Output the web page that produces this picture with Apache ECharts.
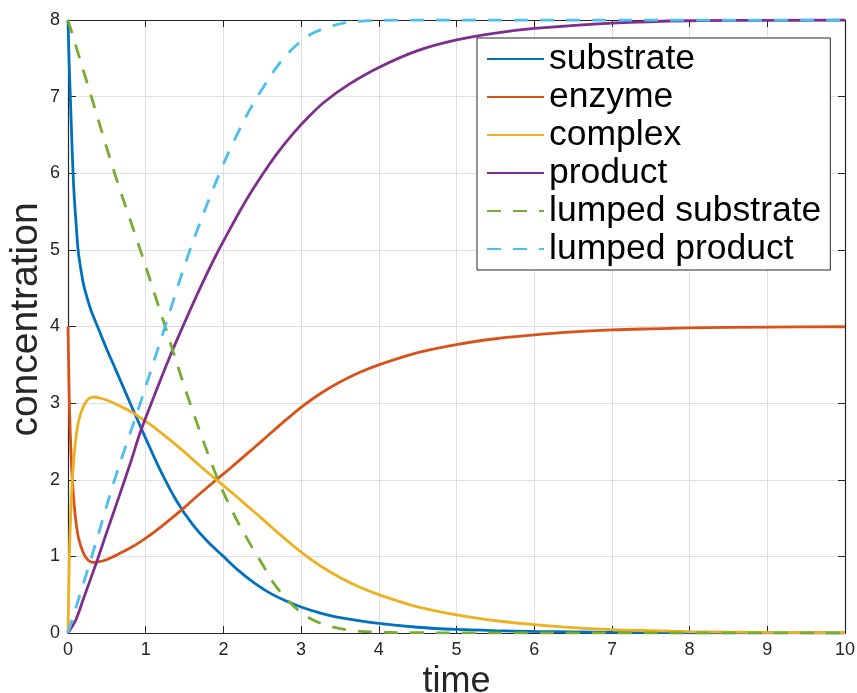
<!DOCTYPE html>
<html>
<head>
<meta charset="utf-8">
<title>enzyme kinetics</title>
<script src="https://cdn.jsdelivr.net/npm/echarts@6.0.0/dist/echarts.min.js"></script>
<style>
  html, body { margin: 0; padding: 0; background: #fff; }
  #main { width: 857px; height: 693px; }
</style>
</head>
<body>
<div id="main"></div>
<script>
// values
var seriesNames = ['substrate', 'enzyme', 'complex', 'product', 'lumped substrate', 'lumped product'];
var colors = ['#0072BD', '#D95319', '#EDB120', '#7E2F8E', '#77AC30', '#4DBEEE'];

var substrateT = [0, 0.01, 0.02, 0.03, 0.045, 0.065, 0.08, 0.1, 0.13, 0.16, 0.2, 0.25, 0.3, 0.38, 0.5, 0.6, 0.8, 1.0, 1.2, 1.4, 1.6, 1.8, 2.0, 2.2, 2.4, 2.6, 2.8, 3.0, 3.25, 3.5, 4.0, 4.5, 5.0, 5.5, 6.0, 7.0, 8.0, 9.0, 10];
var substrate = [8, 7.6, 7.28, 7.0, 6.55, 6.0, 5.7, 5.4, 5.0, 4.78, 4.55, 4.36, 4.2, 4.0, 3.7, 3.47, 3.0, 2.54, 2.1, 1.72, 1.42, 1.19, 1.0, 0.81, 0.65, 0.52, 0.42, 0.34, 0.26, 0.2, 0.125, 0.075, 0.046, 0.03, 0.02, 0.008, 0.003, 0.001, 0];

var kinT = [0, 0.01, 0.02, 0.035, 0.05, 0.07, 0.1, 0.14, 0.2, 0.26, 0.33, 0.4, 0.5, 0.65, 0.81, 0.93, 1.1, 1.3, 1.5, 1.7, 1.91, 2.1, 2.34, 2.5, 2.7, 2.85, 3.0, 3.25, 3.5, 3.75, 4.0, 4.5, 5.0, 5.5, 6.0, 6.5, 7.0, 7.5, 8.0, 9.0, 10];
var enzyme = [4, 3.4, 2.9, 2.45, 2.1, 1.8, 1.47, 1.22, 1.04, 0.95, 0.92, 0.93, 0.96, 1.03, 1.115, 1.19, 1.31, 1.47, 1.64, 1.82, 2.0, 2.16, 2.37, 2.51, 2.69, 2.82, 2.945, 3.125, 3.275, 3.4, 3.5, 3.66, 3.765, 3.84, 3.89, 3.93, 3.955, 3.97, 3.982, 3.993, 3.997];
var complex = [0, 0.6, 1.1, 1.55, 1.9, 2.2, 2.53, 2.78, 2.96, 3.05, 3.08, 3.07, 3.04, 2.97, 2.89, 2.81, 2.69, 2.53, 2.36, 2.18, 2.0, 1.84, 1.63, 1.49, 1.31, 1.18, 1.055, 0.875, 0.725, 0.6, 0.5, 0.34, 0.235, 0.16, 0.11, 0.07, 0.045, 0.03, 0.018, 0.007, 0.003];

var productT = [0, 0.1, 0.2, 0.37, 0.5, 0.65, 0.81, 0.93, 1.1, 1.3, 1.5, 1.7, 1.9, 2.1, 2.3, 2.5, 2.7, 2.9, 3.1, 3.3, 3.6, 4.0, 4.5, 5.0, 5.5, 6.0, 7.0, 8.0, 9.0, 10];
var product = [0, 0.17, 0.45, 0.93, 1.32, 1.76, 2.24, 2.62, 3.07, 3.58, 4.05, 4.5, 4.92, 5.3, 5.66, 5.98, 6.27, 6.52, 6.74, 6.93, 7.15, 7.38, 7.6, 7.74, 7.83, 7.89, 7.96, 7.99, 7.995, 8.0];

var lumpedSubT = [0, 0.3, 0.6, 0.93, 1.25, 1.57, 1.93, 2.15, 2.34, 2.5, 2.64, 2.8, 2.95, 3.1, 3.3, 3.6, 4.0, 4.5, 5, 6, 7, 8, 9, 10];
var lumpedSub = [8, 7.0, 6.0, 5.0, 4.0, 3.0, 2.0, 1.52, 1.17, 0.9, 0.66, 0.46, 0.31, 0.2, 0.11, 0.04, 0.012, 0.004, 0.001, 0, 0, 0, 0, 0];

var lumpedProdT = [0, 0.3, 0.6, 0.93, 1.25, 1.57, 1.95, 2.15, 2.34, 2.5, 2.64, 2.8, 2.95, 3.1, 3.3, 3.5, 3.72, 4.0, 4.5, 5, 6, 7, 8, 9, 10];
var lumpedProd = [0, 0.98, 2.0, 3.0, 4.0, 5.0, 6.0, 6.45, 6.83, 7.1, 7.32, 7.53, 7.68, 7.8, 7.89, 7.95, 7.98, 7.995, 8, 8, 8, 8, 8, 8, 8];

var xTicks = [0, 1, 2, 3, 4, 5, 6, 7, 8, 9, 10];
var yTicks = [0, 1, 2, 3, 4, 5, 6, 7, 8];

var FONT = 'Liberation Sans';
var AXIS_COLOR = '#262626';

function pairs(t, v) {
  var out = [];
  for (var i = 0; i < t.length; i++) {
    out.push([t[i], v[i]]);
  }
  return out;
}

var allData = [
  pairs(substrateT, substrate),
  pairs(kinT, enzyme),
  pairs(kinT, complex),
  pairs(productT, product),
  pairs(lumpedSubT, lumpedSub),
  pairs(lumpedProdT, lumpedProd)
];

var series = [];
for (var i = 0; i < seriesNames.length; i++) {
  series.push({
    name: seriesNames[i],
    type: 'line',
    data: allData[i],
    showSymbol: false,
    symbol: 'circle',
    smooth: 0.35,
    color: colors[i],
    lineStyle: {
      color: colors[i],
      width: 2.8,
      type: i >= 4 ? [14, 12] : 'solid'
    },
    emphasis: { disabled: true }
  });
}

// plain axis with box ticks (used for the top and right edges)
function boxAxis(pos, ticks) {
  return {
    type: 'value',
    position: pos,
    min: 0,
    max: ticks[ticks.length - 1],
    interval: 1,
    axisLine: { show: true, onZero: false, lineStyle: { color: AXIS_COLOR, width: 1.2 } },
    axisTick: { show: true, inside: true, length: 7, lineStyle: { color: AXIS_COLOR } },
    axisLabel: { show: false },
    splitLine: { show: false }
  };
}

var chart = echarts.init(document.getElementById('main'), null, { renderer: 'canvas' });

var option = {
  animation: false,
  backgroundColor: '#fff',
  grid: { left: 68, right: 12, top: 20, bottom: 60, containLabel: false, outerBoundsMode: 'none' },
  xAxis: [{
    type: 'value',
    position: 'bottom',
    min: xTicks[0],
    max: xTicks[xTicks.length - 1],
    interval: 1,
    name: 'time',
    nameLocation: 'middle',
    nameGap: 31,
    nameTextStyle: { fontFamily: FONT, fontSize: 36, color: AXIS_COLOR, verticalAlign: 'top' },
    axisLine: { show: true, onZero: false, lineStyle: { color: AXIS_COLOR, width: 1.2 } },
    axisTick: { show: true, inside: true, length: 7, lineStyle: { color: AXIS_COLOR } },
    axisLabel: { fontFamily: FONT, fontSize: 18, color: AXIS_COLOR, margin: 8 },
    splitLine: { show: true, lineStyle: { color: '#dfdfdf', width: 1 } }
  }, boxAxis('top', xTicks)],
  yAxis: [{
    type: 'value',
    position: 'left',
    min: yTicks[0],
    max: yTicks[yTicks.length - 1],
    interval: 1,
    name: 'concentration',
    nameLocation: 'middle',
    nameMoveOverlap: false,
    nameGap: 22,
    nameRotate: 90,
    nameTextStyle: { fontFamily: FONT, fontSize: 39, color: AXIS_COLOR, padding: [0, 0, 0, 14] },
    axisLine: { show: true, onZero: false, lineStyle: { color: AXIS_COLOR, width: 1.2 } },
    axisTick: { show: true, inside: true, length: 8, lineStyle: { color: AXIS_COLOR } },
    axisLabel: { fontFamily: FONT, fontSize: 18, color: AXIS_COLOR, margin: 8 },
    splitLine: { show: true, lineStyle: { color: '#dfdfdf', width: 1 } }
  }, boxAxis('right', yTicks)],
  legend: {
    orient: 'vertical',
    left: 477,
    top: 38,
    padding: [3, 9, 3, 9],
    itemGap: 2,
    itemWidth: 57,
    itemHeight: 14,
    backgroundColor: '#fff',
    borderColor: AXIS_COLOR,
    borderWidth: 1,
    borderRadius: 0,
    selectedMode: false,
    itemStyle: { opacity: 0, borderWidth: 0 },
    data: seriesNames,
    textStyle: { fontFamily: FONT, fontSize: 35.5, color: '#000' }
  },
  series: series
};

chart.setOption(option);
</script>
</body>
</html>
